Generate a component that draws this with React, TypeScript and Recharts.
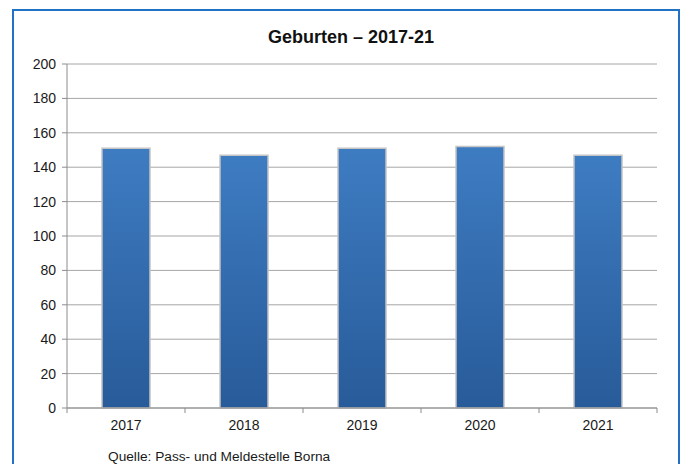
import { BarChart, Bar, XAxis, YAxis, CartesianGrid } from "recharts";

const years = ["2017", "2018", "2019", "2020", "2021"];
const births = [151, 147, 151, 152, 147];
const yTicks = [0, 20, 40, 60, 80, 100, 120, 140, 160, 180, 200];

const data = years.map((year, i) => ({ year, value: births[i] }));

const PLOT_LEFT = 67;
const PLOT_RIGHT = 657;
const HALF_BAND = (PLOT_RIGHT - PLOT_LEFT) / years.length / 2;

const font = "Arial, 'Liberation Sans', sans-serif";

// category ticks sit on the band edges, labels in the middle
const XTick = (props: any) => {
    const { x, y, payload, index } = props;
    const last = index === years.length - 1;
    return (
        <g>
            <line x1={x - HALF_BAND} y1={y - 8} x2={x - HALF_BAND} y2={y - 3} stroke="#8c8c8c" />
            {last && <line x1={x + HALF_BAND} y1={y - 8} x2={x + HALF_BAND} y2={y - 3} stroke="#8c8c8c" />}
            <text x={x} y={y + 14} textAnchor="middle" fontSize={14} fill="#1a1a1a" fontFamily={font}>
                {payload.value}
            </text>
        </g>
    );
};

export default function App() {
    return (
        <div style={{ position: "absolute", left: 0, top: 0, width: 684, height: 464, background: "#fff", overflow: "hidden", fontFamily: font }}>
            <div style={{ position: "absolute", left: 12, top: 9, width: 664, height: 480, border: "2px solid #2172c4", borderBottom: "none" }} />
            <div style={{ position: "absolute", left: 0, width: 702, top: 27, textAlign: "center", fontWeight: "bold", fontSize: 18, color: "#111" }}>
                Geburten – 2017-21
            </div>
            <div style={{ position: "absolute", left: 108, top: 449, fontSize: 13.7, color: "#1a1a1a" }}>
                Quelle: Pass- und Meldestelle Borna
            </div>
            <div style={{ position: "absolute", left: 0, top: 0 }}>
                <BarChart width={684} height={464} data={data} margin={{ top: 64, right: 684 - PLOT_RIGHT, bottom: 0, left: 0 }}>
                    <defs>
                        <linearGradient id="barFill" x1="0" y1="0" x2="0" y2="1">
                            <stop offset="0%" stopColor="#3e7cc2" />
                            <stop offset="100%" stopColor="#285b99" />
                        </linearGradient>
                    </defs>
                    <CartesianGrid vertical={false} stroke="#a6a6a6" />
                    <XAxis dataKey="year" height={56} stroke="#8c8c8c" tickLine={false} tick={<XTick />} interval={0} />
                    <YAxis
                        width={PLOT_LEFT}
                        domain={[0, 200]}
                        ticks={yTicks}
                        stroke="#8c8c8c"
                        tickSize={5}
                        tickMargin={6}
                        tick={{ fontSize: 14, fill: "#1a1a1a", fontFamily: font }}
                        interval={0}
                    />
                    <Bar dataKey="value" barSize={48} fill="url(#barFill)" stroke="#c4c4c4" strokeWidth={1.5} isAnimationActive={false} />
                </BarChart>
            </div>
        </div>
    );
}
